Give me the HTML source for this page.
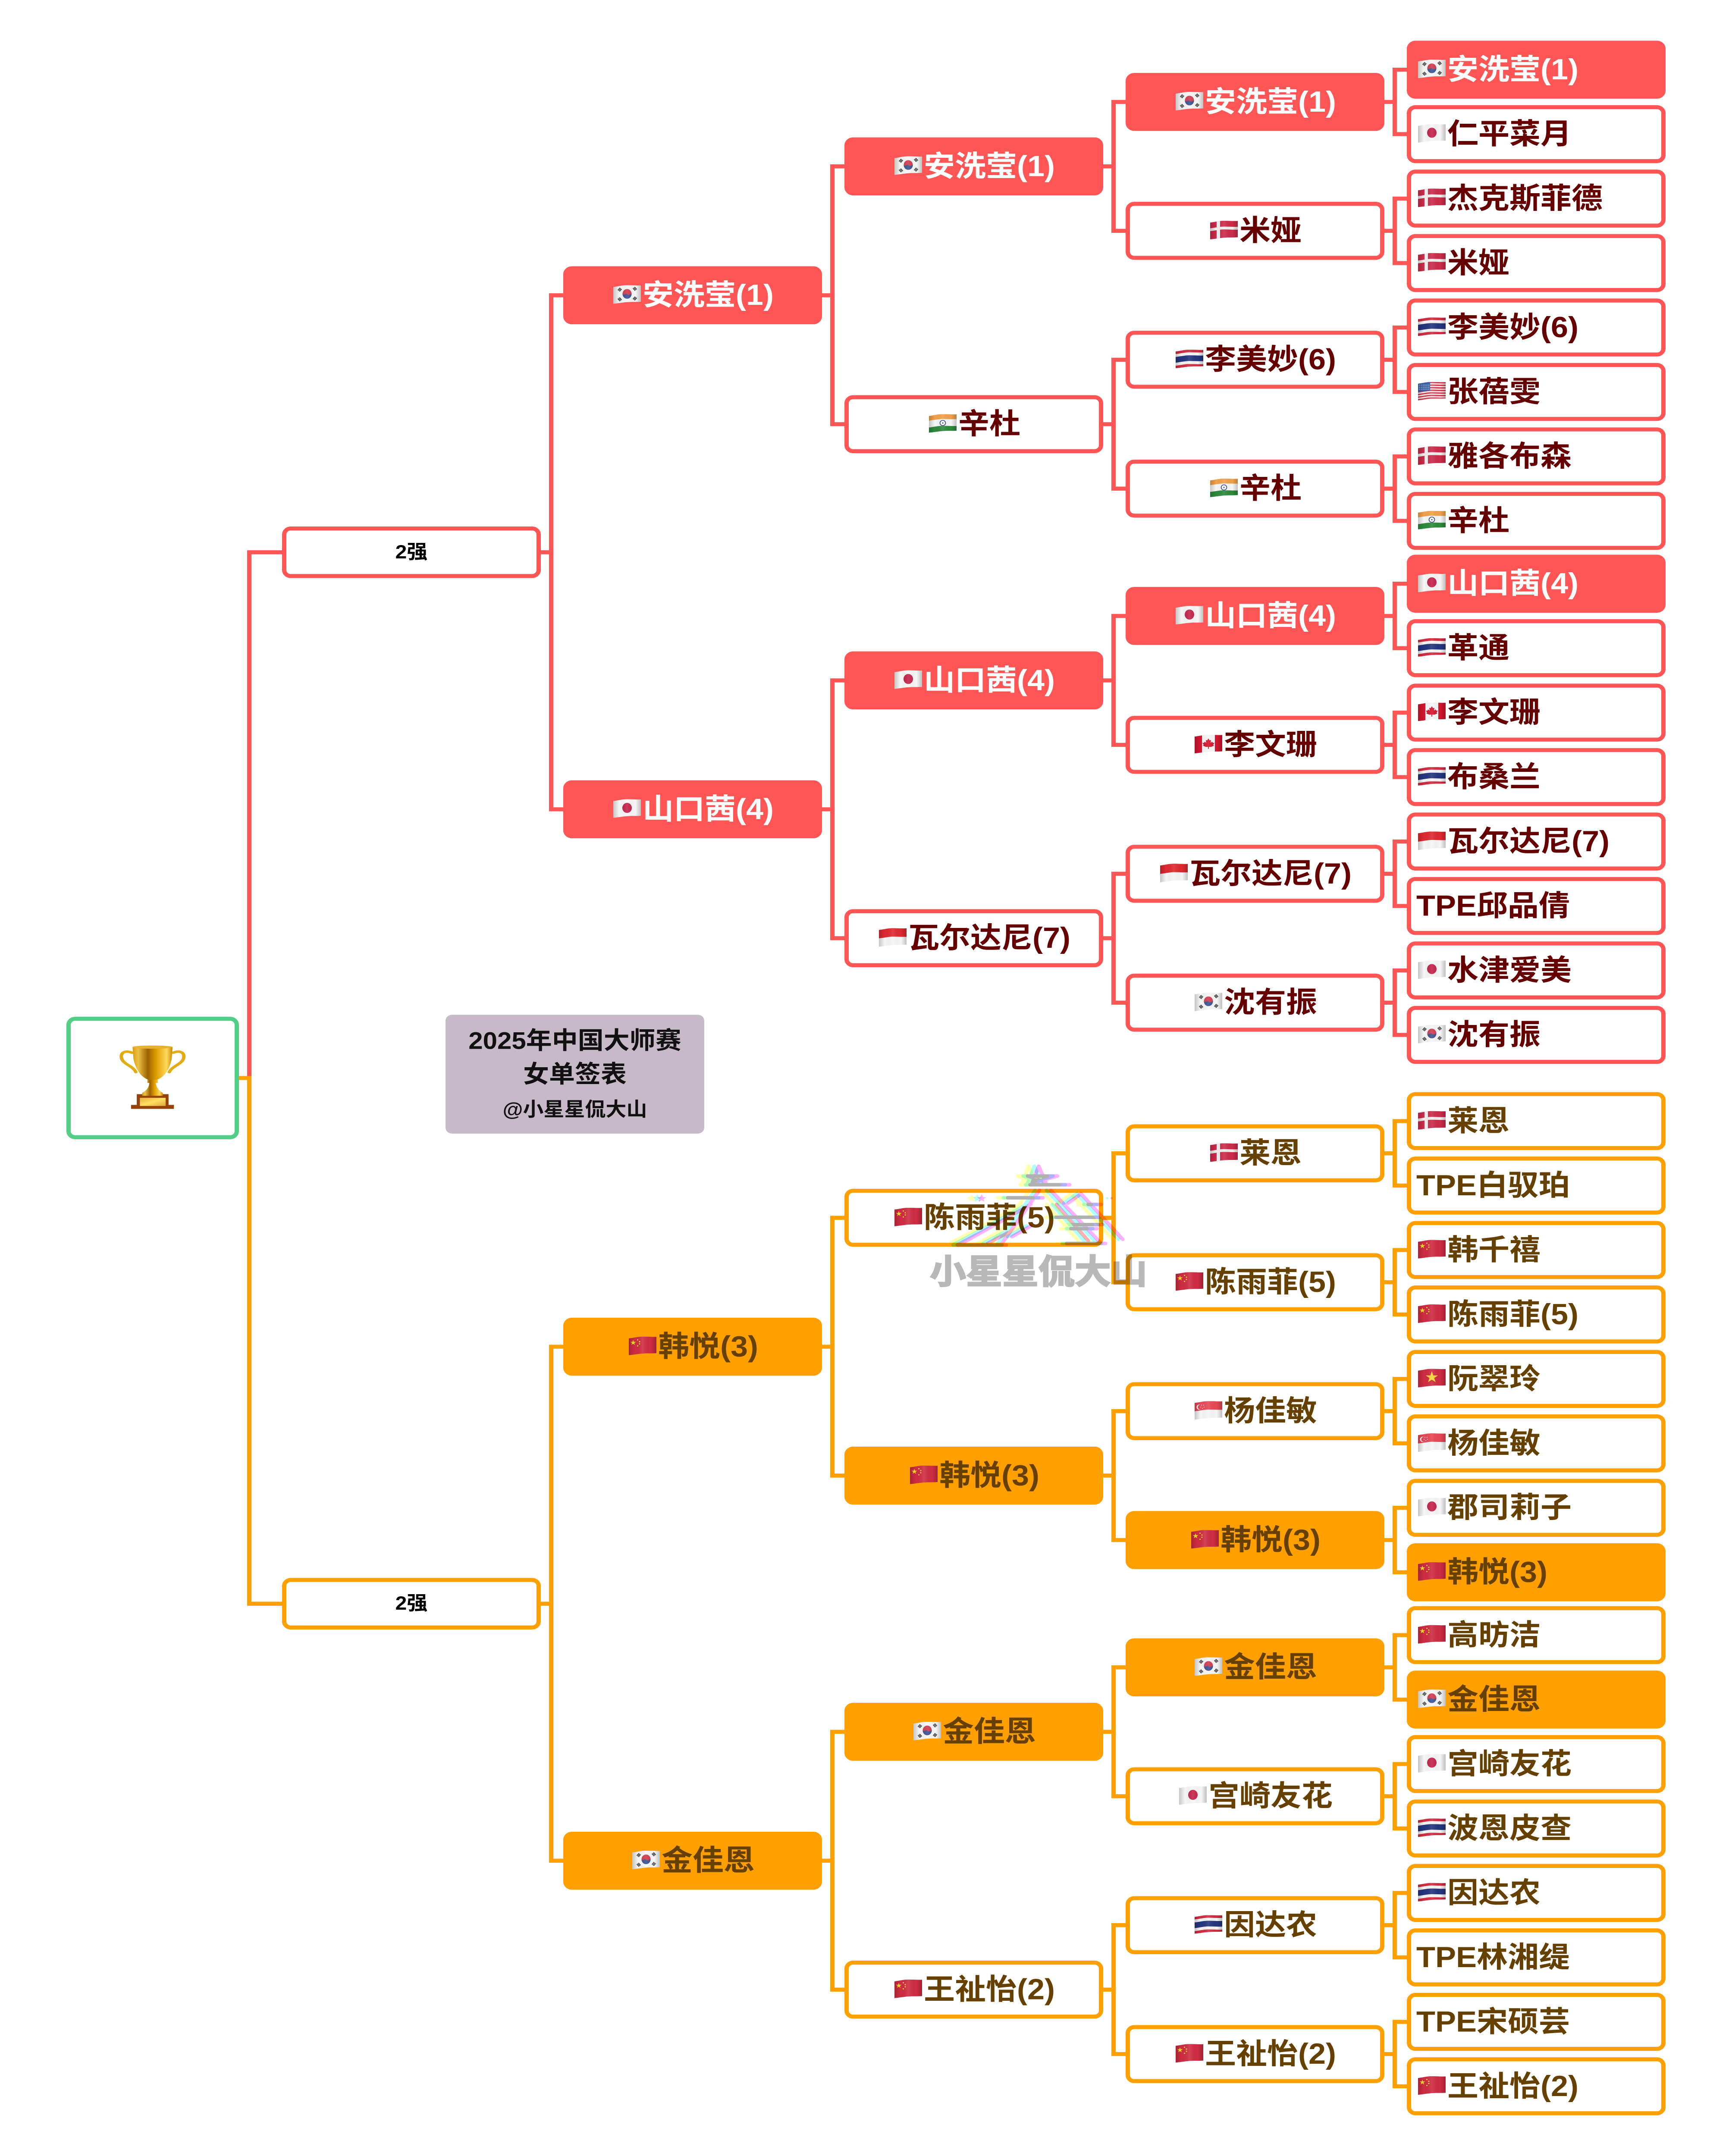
<!DOCTYPE html>
<html lang="zh"><head><meta charset="utf-8"><title>2025年中国大师赛 女单签表</title>
<style>
html,body{margin:0;padding:0;background:#fff;width:100%;height:100%;overflow:hidden}
#p{position:absolute;left:0;top:0;width:4016px;height:5352px;overflow:hidden;contain:strict;background:#fff;transform-origin:0 0;font-family:"Liberation Sans","Noto Sans CJK SC",sans-serif;font-weight:700}
svg.c{position:absolute;left:0;top:0;display:block}
.b{position:absolute;box-sizing:border-box;width:600px;height:144px;border:10px solid;border-radius:20px;background:#fff;display:flex;align-items:center;justify-content:center;font-size:72px;line-height:1;white-space:nowrap}
.r{border-color:#ff5555;color:#660000}
.o{border-color:#ff9f00;color:#664000}
.r.f{background:#ff5555;color:#fff}
.o.f{background:#ff9f00;color:#664000}
.L{left:3262px;justify-content:flex-start;padding-left:12px}
.A{left:2610px}.B{left:1958px}.C{left:1306px}
.D{left:654px;height:128px;font-size:48px;color:#000}
.e{display:block;width:72px;height:47px;flex:none;margin-top:-3px}
.e svg{display:block;margin-left:4px}
#root{position:absolute;left:154px;top:2524px;width:400px;height:304px;box-sizing:border-box;border:10px solid #53ce86;border-radius:20px;background:#fff}
#info{position:absolute;left:1033px;top:2519px;width:600px;height:295px;background:#c7b9c8;border-radius:15px;color:#111}
#info div{position:absolute;left:0;width:600px;text-align:center;line-height:1}
#wm{position:absolute;left:0;top:0;display:block;mix-blend-mode:multiply;pointer-events:none}
</style></head><body><div id="p">

<svg width="0" height="0" style="position:absolute;left:0;top:0"><defs>
<clipPath id="fc"><path d="M0 4.5C12 3 20 0 32 0C44 0 52 1 64 .5V41C52 42 44 41 32 42C20 43 12 45 0 46Z"/></clipPath>
<linearGradient id="sh"><stop offset="0" stop-color="#000" stop-opacity=".2"/><stop offset=".22" stop-color="#000" stop-opacity="0"/><stop offset=".5" stop-color="#fff" stop-opacity=".1"/><stop offset=".8" stop-color="#000" stop-opacity="0"/><stop offset="1" stop-color="#000" stop-opacity=".22"/></linearGradient>
<path id="fo" d="M0 4.5C12 3 20 0 32 0C44 0 52 1 64 .5V41C52 42 44 41 32 42C20 43 12 45 0 46Z"/>
<path id="wv" fill="none" d="M-2 4.5C12 3 20 0 32 0C44 0 52 1 66 .5"/>
<polygon id="st" points="0,-1 .2245,-.309 .951,-.309 .363,.118 .588,.809 0,.382 -.588,.809 -.363,.118 -.951,-.309 -.2245,-.309"/>
<g id="tg" stroke="#222" stroke-width="1.6"><path d="M-4 -2.5H4M-4 0H4M-4 2.5H4"/></g>

<g id="jp"><use href="#fo" fill="#f6f6f6"/><ellipse cx="32" cy="21.5" rx="11" ry="12.5" fill="#c4234a"/><use href="#fo" fill="url(#sh)"/></g>
<g id="kr"><use href="#fo" fill="#f6f6f6"/><ellipse cx="32" cy="21.5" rx="10.5" ry="12" fill="#d03c50"/><path d="M21.5 21.5C24 27 30 18 32 22C35 27 41 22 42.5 20C43 28 38 33.5 32 33.5C26 33.5 21.5 28 21.5 21.5Z" fill="#3a5490"/>
<use href="#tg" transform="translate(15 11) rotate(-50)"/><use href="#tg" transform="translate(50 9) rotate(50)"/><use href="#tg" transform="translate(15 35) rotate(50)"/><use href="#tg" transform="translate(50 33) rotate(-50)"/><use href="#fo" fill="url(#sh)"/></g>
<g id="dk"><use href="#fo" fill="#cc2c4a"/><g clip-path="url(#fc)"><rect x="15" y="0" width="8" height="48" fill="#f2eeee"/><use href="#wv" y="18" stroke="#f2eeee" stroke-width="7"/></g><use href="#fo" fill="url(#sh)"/></g>
<g id="th"><use href="#fo" fill="#f4f2f2"/><g clip-path="url(#fc)"><use href="#wv" y="3" stroke="#d22c40" stroke-width="7"/><use href="#wv" y="21" stroke="#24367e" stroke-width="14"/><use href="#wv" y="39" stroke="#d22c40" stroke-width="7"/></g><use href="#fo" fill="url(#sh)"/></g>
<g id="us"><use href="#fo" fill="#f6f2f2"/><g clip-path="url(#fc)" stroke="#d53a4e" stroke-width="3.3"><use href="#wv" y="1.6"/><use href="#wv" y="8"/><use href="#wv" y="14.4"/><use href="#wv" y="20.8"/><use href="#wv" y="27.2"/><use href="#wv" y="33.6"/><use href="#wv" y="40"/><path d="M-2 -2H28V22C18 22 8 24 -2 26Z" fill="#3b62a8" stroke="none"/><path d="M2 8H26M2 13H26M2 18H26" stroke="#cfdcf2" stroke-width="2" stroke-dasharray="2 2.4"/></g><use href="#fo" fill="url(#sh)"/></g>
<g id="in"><use href="#fo" fill="#f6f6f6"/><g clip-path="url(#fc)"><use href="#wv" y="5" stroke="#f2a04a" stroke-width="14"/><use href="#wv" y="36" stroke="#2d8a3c" stroke-width="14"/></g><circle cx="32" cy="22" r="6.5" fill="none" stroke="#2b3a80" stroke-width="1.7"/><circle cx="32" cy="22" r="1.5" fill="#2b3a80"/><use href="#fo" fill="url(#sh)"/></g>
<g id="ca"><use href="#fo" fill="#f6f6f6"/><g clip-path="url(#fc)"><rect x="0" y="0" width="17" height="48" fill="#d4162e"/><rect x="47" y="0" width="17" height="48" fill="#d4162e"/></g><polygon points="32,9 35,14 38,13 37,20 41,17 42,20 46,20 43,25 45,27 38,30 33,30 33,35 31,35 31,30 26,30 19,27 21,25 18,20 22,20 23,17 27,20 26,13 29,14" fill="#d4162e"/><use href="#fo" fill="url(#sh)"/></g>
<g id="id"><use href="#fo" fill="#f6f6f6"/><g clip-path="url(#fc)"><use href="#wv" y="10.5" stroke="#de2a30" stroke-width="21"/></g><use href="#fo" fill="url(#sh)"/></g>
<g id="sg"><use href="#fo" fill="#f6f6f6"/><g clip-path="url(#fc)"><use href="#wv" y="10.5" stroke="#e84856" stroke-width="21"/></g><circle cx="11" cy="15" r="6.5" fill="#fff"/><circle cx="13.5" cy="15" r="6" fill="#e84856"/><g fill="#fff"><circle cx="16" cy="10" r="1"/><circle cx="21" cy="10" r="1"/><circle cx="14" cy="15" r="1"/><circle cx="22" cy="15" r="1"/><circle cx="18" cy="18" r="1"/></g><use href="#fo" fill="url(#sh)"/></g>
<g id="cn"><use href="#fo" fill="#cf2c42"/><g fill="#f4e12a"><use href="#st" transform="translate(10 15) scale(6.8)"/><circle cx="20.5" cy="8" r="1.5"/><circle cx="25" cy="12.5" r="1.5"/><circle cx="25" cy="18" r="1.5"/><circle cx="20.5" cy="23" r="1.5"/></g><use href="#fo" fill="url(#sh)"/></g>
<g id="vn"><use href="#fo" fill="#cf2c42"/><use href="#st" fill="#fcd535" transform="translate(32 21) scale(15)"/><use href="#fo" fill="url(#sh)"/></g>

<linearGradient id="cup"><stop offset="0" stop-color="#d79a10"/><stop offset=".14" stop-color="#ecc244"/><stop offset=".38" stop-color="#9c6200"/><stop offset=".6" stop-color="#e0a000"/><stop offset=".85" stop-color="#ffd95e"/><stop offset="1" stop-color="#c88a00"/></linearGradient>
<linearGradient id="pl" x2="1" y2="1"><stop offset="0" stop-color="#e8b040"/><stop offset=".5" stop-color="#ffdf60"/><stop offset="1" stop-color="#e0a840"/></linearGradient>
</defs></svg>

<svg class="c" width="4016" height="5352" fill="none" stroke-width="10" stroke-linejoin="miter">
<g stroke="#ff5555">
<path d="M3210 253H3234M3262 173H3234V333H3262M3210 573H3234M3262 493H3234V653H3262M3210 893H3234M3262 813H3234V973H3262M3210 1213H3234M3262 1133H3234V1293H3262M3210 1529H3234M3262 1449H3234V1609H3262M3210 1849H3234M3262 1769H3234V1929H3262M3210 2169H3234M3262 2089H3234V2249H3262M3210 2489H3234M3262 2409H3234V2569H3262"/>
<path d="M2558 413H2582M2610 253H2582V573H2610M2558 1053H2582M2610 893H2582V1213H2610M2558 1689H2582M2610 1529H2582V1849H2610M2558 2329H2582M2610 2169H2582V2489H2610"/>
<path d="M1906 733H1930M1958 413H1930V1053H1958M1906 2009H1930M1958 1689H1930V2329H1958"/>
<path d="M1254 1371H1278M1306 733H1278V2009H1306"/>
<path d="M655 1371H578V2676"/>
</g>
<g stroke="#ff9f00">
<path d="M3210 2863H3234M3262 2783H3234V2943H3262M3210 3183H3234M3262 3103H3234V3263H3262M3210 3503H3234M3262 3423H3234V3583H3262M3210 3823H3234M3262 3743H3234V3903H3262M3210 4139H3234M3262 4059H3234V4219H3262M3210 4459H3234M3262 4379H3234V4539H3262M3210 4779H3234M3262 4699H3234V4859H3262M3210 5099H3234M3262 5019H3234V5179H3262"/>
<path d="M2558 3023H2582M2610 2863H2582V3183H2610M2558 3663H2582M2610 3503H2582V3823H2610M2558 4299H2582M2610 4139H2582V4459H2610M2558 4939H2582M2610 4779H2582V5099H2610"/>
<path d="M1906 3343H1930M1958 3023H1930V3663H1958M1906 4619H1930M1958 4299H1930V4939H1958"/>
<path d="M1254 3981H1278M1306 3343H1278V4619H1306"/>
<path d="M554 2676H578V3981H655"/>
</g>
</svg>

<div id="root"><svg style="position:absolute;left:113px;top:61px" width="154" height="158" viewBox="397 585 345 476" preserveAspectRatio="none">
<g fill="none" stroke="#e2ac14" stroke-width="18" stroke-linecap="round"><path d="M462 640C420 615 395 650 412 695C428 730 470 745 482 785"/><path d="M676 640C718 615 743 650 726 695C710 730 668 745 656 785"/></g>
<path d="M465 600Q570 576 673 600L668 690Q650 810 592 842H546Q490 810 470 690Z" fill="url(#cup)"/>
<ellipse cx="569" cy="598" rx="105" ry="12" fill="#e6b030"/>
<path d="M487 950H652V1030H680V1060H457V1030H487Z" fill="#96400a"/>
<rect x="503" y="977" width="134" height="61" fill="url(#pl)"/>
<path d="M542 842H596V866H586Q590 915 622 940V962H515V940Q550 915 552 866H542Z" fill="url(#cup)"/>
</svg></div>

<div id="info">
<div style="top:35px;font-size:60px">2025年中国大师赛</div>
<div style="top:118px;font-size:60px">女单签表</div>
<div style="top:212px;font-size:48px">@小星星侃大山</div>
</div>

<!-- 2强 -->
<div class="b D r" style="top:1307px;color:#000">2强</div>
<div class="b D o" style="top:3917px;color:#000">2强</div>

<!-- red C -->
<div class="b C r f" style="top:661px"><i class="e"><svg width="64" height="47"><use href="#kr"/></svg></i>安洗莹(1)</div>
<div class="b C r f" style="top:1937px"><i class="e"><svg width="64" height="47"><use href="#jp"/></svg></i>山口茜(4)</div>
<!-- red B -->
<div class="b B r f" style="top:341px"><i class="e"><svg width="64" height="47"><use href="#kr"/></svg></i>安洗莹(1)</div>
<div class="b B r" style="top:981px"><i class="e"><svg width="64" height="47"><use href="#in"/></svg></i>辛杜</div>
<div class="b B r f" style="top:1617px"><i class="e"><svg width="64" height="47"><use href="#jp"/></svg></i>山口茜(4)</div>
<div class="b B r" style="top:2257px"><i class="e"><svg width="64" height="47"><use href="#id"/></svg></i>瓦尔达尼(7)</div>
<!-- red A -->
<div class="b A r f" style="top:181px"><i class="e"><svg width="64" height="47"><use href="#kr"/></svg></i>安洗莹(1)</div>
<div class="b A r" style="top:501px"><i class="e"><svg width="64" height="47"><use href="#dk"/></svg></i>米娅</div>
<div class="b A r" style="top:821px"><i class="e"><svg width="64" height="47"><use href="#th"/></svg></i>李美妙(6)</div>
<div class="b A r" style="top:1141px"><i class="e"><svg width="64" height="47"><use href="#in"/></svg></i>辛杜</div>
<div class="b A r f" style="top:1457px"><i class="e"><svg width="64" height="47"><use href="#jp"/></svg></i>山口茜(4)</div>
<div class="b A r" style="top:1777px"><i class="e"><svg width="64" height="47"><use href="#ca"/></svg></i>李文珊</div>
<div class="b A r" style="top:2097px"><i class="e"><svg width="64" height="47"><use href="#id"/></svg></i>瓦尔达尼(7)</div>
<div class="b A r" style="top:2417px"><i class="e"><svg width="64" height="47"><use href="#kr"/></svg></i>沈有振</div>
<!-- red L -->
<div class="b L r f" style="top:101px"><i class="e"><svg width="64" height="47"><use href="#kr"/></svg></i>安洗莹(1)</div>
<div class="b L r" style="top:261px"><i class="e"><svg width="64" height="47"><use href="#jp"/></svg></i>仁平菜月</div>
<div class="b L r" style="top:421px"><i class="e"><svg width="64" height="47"><use href="#dk"/></svg></i>杰克斯菲德</div>
<div class="b L r" style="top:581px"><i class="e"><svg width="64" height="47"><use href="#dk"/></svg></i>米娅</div>
<div class="b L r" style="top:741px"><i class="e"><svg width="64" height="47"><use href="#th"/></svg></i>李美妙(6)</div>
<div class="b L r" style="top:901px"><i class="e"><svg width="64" height="47"><use href="#us"/></svg></i>张蓓雯</div>
<div class="b L r" style="top:1061px"><i class="e"><svg width="64" height="47"><use href="#dk"/></svg></i>雅各布森</div>
<div class="b L r" style="top:1221px"><i class="e"><svg width="64" height="47"><use href="#in"/></svg></i>辛杜</div>
<div class="b L r f" style="top:1377px"><i class="e"><svg width="64" height="47"><use href="#jp"/></svg></i>山口茜(4)</div>
<div class="b L r" style="top:1537px"><i class="e"><svg width="64" height="47"><use href="#th"/></svg></i>革通</div>
<div class="b L r" style="top:1697px"><i class="e"><svg width="64" height="47"><use href="#ca"/></svg></i>李文珊</div>
<div class="b L r" style="top:1857px"><i class="e"><svg width="64" height="47"><use href="#th"/></svg></i>布桑兰</div>
<div class="b L r" style="top:2017px"><i class="e"><svg width="64" height="47"><use href="#id"/></svg></i>瓦尔达尼(7)</div>
<div class="b L r" style="top:2177px">TPE邱品倩</div>
<div class="b L r" style="top:2337px"><i class="e"><svg width="64" height="47"><use href="#jp"/></svg></i>水津爱美</div>
<div class="b L r" style="top:2497px"><i class="e"><svg width="64" height="47"><use href="#kr"/></svg></i>沈有振</div>

<!-- orange C -->
<div class="b C o f" style="top:3271px"><i class="e"><svg width="64" height="47"><use href="#cn"/></svg></i>韩悦(3)</div>
<div class="b C o f" style="top:4547px"><i class="e"><svg width="64" height="47"><use href="#kr"/></svg></i>金佳恩</div>
<!-- orange B -->
<div class="b B o" style="top:2951px"><i class="e"><svg width="64" height="47"><use href="#cn"/></svg></i>陈雨菲(5)</div>
<div class="b B o f" style="top:3591px"><i class="e"><svg width="64" height="47"><use href="#cn"/></svg></i>韩悦(3)</div>
<div class="b B o f" style="top:4227px"><i class="e"><svg width="64" height="47"><use href="#kr"/></svg></i>金佳恩</div>
<div class="b B o" style="top:4867px"><i class="e"><svg width="64" height="47"><use href="#cn"/></svg></i>王祉怡(2)</div>
<!-- orange A -->
<div class="b A o" style="top:2791px"><i class="e"><svg width="64" height="47"><use href="#dk"/></svg></i>莱恩</div>
<div class="b A o" style="top:3111px"><i class="e"><svg width="64" height="47"><use href="#cn"/></svg></i>陈雨菲(5)</div>
<div class="b A o" style="top:3431px"><i class="e"><svg width="64" height="47"><use href="#sg"/></svg></i>杨佳敏</div>
<div class="b A o f" style="top:3751px"><i class="e"><svg width="64" height="47"><use href="#cn"/></svg></i>韩悦(3)</div>
<div class="b A o f" style="top:4067px"><i class="e"><svg width="64" height="47"><use href="#kr"/></svg></i>金佳恩</div>
<div class="b A o" style="top:4387px"><i class="e"><svg width="64" height="47"><use href="#jp"/></svg></i>宫崎友花</div>
<div class="b A o" style="top:4707px"><i class="e"><svg width="64" height="47"><use href="#th"/></svg></i>因达农</div>
<div class="b A o" style="top:5027px"><i class="e"><svg width="64" height="47"><use href="#cn"/></svg></i>王祉怡(2)</div>
<!-- orange L -->
<div class="b L o" style="top:2711px"><i class="e"><svg width="64" height="47"><use href="#dk"/></svg></i>莱恩</div>
<div class="b L o" style="top:2871px">TPE白驭珀</div>
<div class="b L o" style="top:3031px"><i class="e"><svg width="64" height="47"><use href="#cn"/></svg></i>韩千禧</div>
<div class="b L o" style="top:3191px"><i class="e"><svg width="64" height="47"><use href="#cn"/></svg></i>陈雨菲(5)</div>
<div class="b L o" style="top:3351px"><i class="e"><svg width="64" height="47"><use href="#vn"/></svg></i>阮翠玲</div>
<div class="b L o" style="top:3511px"><i class="e"><svg width="64" height="47"><use href="#sg"/></svg></i>杨佳敏</div>
<div class="b L o" style="top:3671px"><i class="e"><svg width="64" height="47"><use href="#jp"/></svg></i>郡司莉子</div>
<div class="b L o f" style="top:3831px"><i class="e"><svg width="64" height="47"><use href="#cn"/></svg></i>韩悦(3)</div>
<div class="b L o" style="top:3987px"><i class="e"><svg width="64" height="47"><use href="#cn"/></svg></i>高昉洁</div>
<div class="b L o f" style="top:4147px"><i class="e"><svg width="64" height="47"><use href="#kr"/></svg></i>金佳恩</div>
<div class="b L o" style="top:4307px"><i class="e"><svg width="64" height="47"><use href="#jp"/></svg></i>宫崎友花</div>
<div class="b L o" style="top:4467px"><i class="e"><svg width="64" height="47"><use href="#th"/></svg></i>波恩皮查</div>
<div class="b L o" style="top:4627px"><i class="e"><svg width="64" height="47"><use href="#th"/></svg></i>因达农</div>
<div class="b L o" style="top:4787px">TPE林湘缇</div>
<div class="b L o" style="top:4947px">TPE宋硕芸</div>
<div class="b L o" style="top:5107px"><i class="e"><svg width="64" height="47"><use href="#cn"/></svg></i>王祉怡(2)</div>

<!-- watermark -->
<svg id="wm" width="4016" height="5352">
<defs><g id="logo" fill="none" stroke-width="26" stroke-linecap="round" stroke-linejoin="round">
<path d="M655 45L705 165L578 118H785L610 170Z"/>
<path d="M595 183H870M440 280H685M775 425H1080M90 632H430M850 620H1120"/>
<path d="M660 225L400 620M600 330L120 620M600 490L470 570M440 540L300 620M250 540L90 630"/>
<path d="M740 225L1090 620M780 330L1000 600"/>
<path d="M860 320L950 250L1240 590M1000 330H1090M900 480H1100M880 510H1060"/>
<path d="M258 253L268 275L290 277L272 290L278 310L258 298L238 310L244 290L226 277L248 275Z" fill="currentColor" stroke="none"/>
<circle cx="1162" cy="283" r="8" fill="currentColor" stroke="none"/>
</g></defs>
<g transform="translate(2180 2880) scale(.33333)">
<use href="#logo" x="-40" stroke="#ffffb0" color="#ffffb0" style="mix-blend-mode:multiply"/>
<use href="#logo" stroke="#b0ffff" color="#b0ffff" style="mix-blend-mode:multiply"/>
<use href="#logo" x="30" stroke="#ffb0ff" color="#ffb0ff" style="mix-blend-mode:multiply"/>
</g>
<text x="2156" y="3186" font-size="84" font-weight="700" fill="#b8b8b8" stroke="#b8b8b8" stroke-width="3" style="font-family:'Liberation Sans','Noto Sans CJK SC',sans-serif">小星星侃大山</text>
</svg>

</div>
<!-- Layout is authored at 4016x5352. A fixed-position test marker indicated the
     renderer's viewport is shorter than that, so this script stretches the page to
     fill whatever viewport it gets. It is a no-op at exactly 4016x5352; otherwise
     the scale is non-uniform and shapes and glyphs are slightly distorted. -->
<script>
(function(){
  var p=document.getElementById('p');
  function fit(){
    var w=window.innerWidth,h=window.innerHeight;
    if(!w||!h){return}
    if(w===4016&&h===5352){p.style.transform='none';return}
    p.style.transform='scale('+(w/4016)+','+(h/5352)+')';
  }
  fit();
  window.addEventListener('resize',fit);
})();
</script>
</body></html>
